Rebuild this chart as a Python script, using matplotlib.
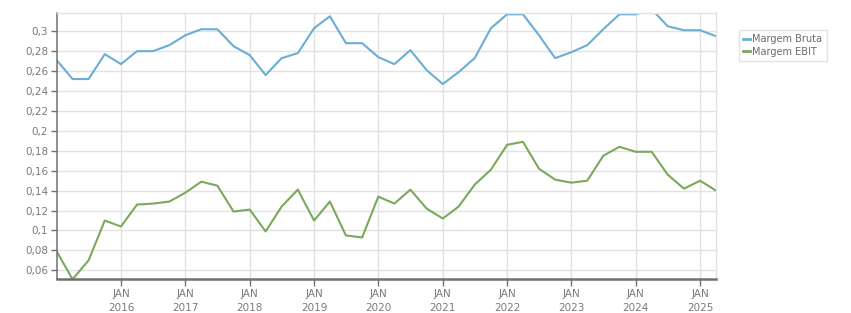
import matplotlib
matplotlib.use("Agg")
import matplotlib.pyplot as plt
import matplotlib.dates as mdates
import numpy as np
import pandas as pd

quarters = pd.date_range("2015-01-01", "2025-04-01", freq="QS")

margem_bruta = [0.271, 0.252, 0.252, 0.277, 0.267, 0.280, 0.280, 0.286,
                0.296, 0.302, 0.302, 0.285, 0.276, 0.256, 0.273, 0.278,
                0.303, 0.315, 0.288, 0.288, 0.274, 0.267, 0.281, 0.261,
                0.247, 0.259, 0.273, 0.303, 0.317, 0.317, 0.296, 0.273,
                0.279, 0.286, 0.302, 0.317, 0.317, 0.322, 0.305, 0.301,
                0.301, 0.295]

margem_ebit = [0.079, 0.051, 0.070, 0.110, 0.104, 0.126, 0.127, 0.129,
               0.138, 0.149, 0.145, 0.119, 0.121, 0.099, 0.124, 0.141,
               0.110, 0.129, 0.095, 0.093, 0.134, 0.127, 0.141, 0.122,
               0.112, 0.124, 0.146, 0.161, 0.186, 0.189, 0.162, 0.151,
               0.148, 0.150, 0.175, 0.184, 0.179, 0.179, 0.156, 0.142,
               0.150, 0.140]

series_names = ["Margem Bruta", "Margem EBIT"]
colors = ["#6aaed6", "#7aa95c"]
yticks = np.arange(0.06, 0.301, 0.02)

plt.rcParams['font.family'] = ['DejaVu Sans']
fig = plt.figure(figsize=(8.51, 3.13), dpi=100)
ax = fig.add_axes([56.7 / 851, 1 - 279.3 / 313, (716 - 56.7) / 851, (279.3 - 13) / 313])

ax.plot(quarters, margem_bruta, color=colors[0], lw=1.5, label=series_names[0])
ax.plot(quarters, margem_ebit, color=colors[1], lw=1.5, label=series_names[1])

ax.set_xlim(quarters[0], quarters[-1])
ax.set_ylim(0.051, 0.3183)

ax.set_yticks(yticks)
ax.set_yticklabels([("%g" % round(v, 2)).replace(".", ",") for v in yticks])

years = pd.date_range("2016-01-01", "2025-01-01", freq="YS")
ax.set_xticks(years)
ax.set_xticklabels(["JAN\n%d" % d.year for d in years], linespacing=1.55)

ax.grid(True, color="#e2e2e2", lw=1)
ax.set_axisbelow(True)

for s in ["top", "right"]:
    ax.spines[s].set_color("#e2e2e2")
    ax.spines[s].set_linewidth(1)
ax.spines["left"].set_color("#707070")
ax.spines["left"].set_linewidth(1.1)
ax.spines["bottom"].set_color("#707070")
ax.spines["bottom"].set_linewidth(1.8)

ax.tick_params(axis="y", length=4, width=1, color="#707070", labelsize=7.5,
               labelcolor="#7a7a7a", pad=2)
ax.tick_params(axis="x", length=5, width=1, color="#707070", labelsize=7.5,
               labelcolor="#7a7a7a", pad=2)

leg = fig.legend(loc="upper left", bbox_to_anchor=(739 / 851, 1 - 30 / 313),
                 frameon=True, fancybox=False, fontsize=7, handlelength=0.7,
                 handletextpad=0.2, borderpad=0.45, labelspacing=0.25,
                 borderaxespad=0)
leg.get_frame().set_edgecolor("#dddddd")
leg.get_frame().set_linewidth(1)
for t in leg.get_texts():
    t.set_color("#6a6a6a")
for h in leg.get_lines():
    h.set_linewidth(2)

fig.savefig("out.png", dpi=100)
